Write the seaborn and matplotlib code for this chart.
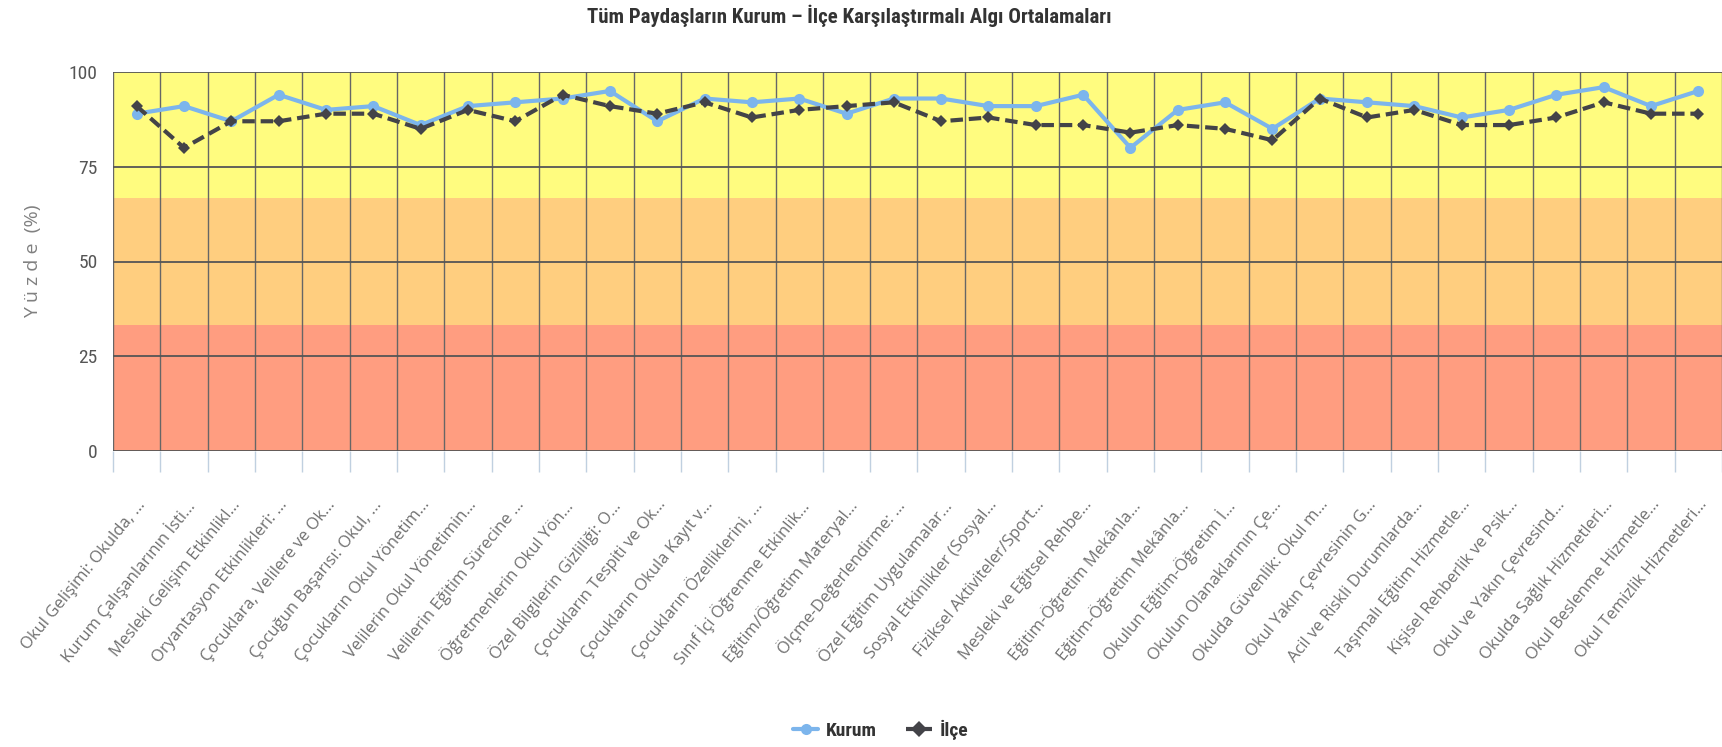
import matplotlib
matplotlib.use("Agg")
import matplotlib.pyplot as plt
from matplotlib import font_manager
import seaborn as sns
import numpy as np
import pandas as pd

# kategoriler (grafikteki kısaltılmış haliyle)
categories = [
    "Okul Gelişimi: Okulda, …", "Kurum Çalışanlarının İsti…", "Mesleki Gelişim Etkinlikl…",
    "Oryantasyon Etkinlikleri: …", "Çocuklara, Velilere ve Ok…", "Çocuğun Başarısı: Okul, …",
    "Çocukların Okul Yönetim…", "Velilerin Okul Yönetimin…", "Velilerin Eğitim Sürecine …",
    "Öğretmenlerin Okul Yön…", "Özel Bilgilerin Gizliliği: O…", "Çocukların Tespiti ve Ok…",
    "Çocukların Okula Kayıt v…", "Çocukların Özelliklerini, …", "Sınıf İçi Öğrenme Etkinlik…",
    "Eğitim/Öğretim Materyal…", "Ölçme-Değerlendirme: …", "Özel Eğitim Uygulamalar…",
    "Sosyal Etkinlikler (Sosyal…", "Fiziksel Aktiviteler/Sport…", "Mesleki ve Eğitsel Rehbe…",
    "Eğitim-Öğretim Mekânla…", "Eğitim-Öğretim Mekânla…", "Okulun Eğitim-Öğretim İ…",
    "Okulun Olanaklarının Çe…", "Okulda Güvenlik: Okul m…", "Okul Yakın Çevresinin G…",
    "Acil ve Riskli Durumlarda…", "Taşımalı Eğitim Hizmetle…", "Kişisel Rehberlik ve Psik…",
    "Okul ve Yakın Çevresind…", "Okulda Sağlık Hizmetleri…", "Okul Beslenme Hizmetle…",
    "Okul Temizlik Hizmetleri…",
]

kurum = [89, 91, 87, 94, 90, 91, 86, 91, 92, 93, 95, 87, 93, 92, 93, 89, 93,
         93, 91, 91, 94, 80, 90, 92, 85, 93, 92, 91, 88, 90, 94, 96, 91, 95]
ilce = [91, 80, 87, 87, 89, 89, 85, 90, 87, 94, 91, 89, 92, 88, 90, 91, 92,
        87, 88, 86, 86, 84, 86, 85, 82, 93, 88, 90, 86, 86, 88, 92, 89, 89]

series_names = ["Kurum", "İlçe"]
y_ticks = [0, 25, 50, 75, 100]
band_edges = [0, 33.33, 66.67, 100]
band_colors = ["#FF9D80", "#FFCE7F", "#FFFC7F"]

sns.set_theme(style="white")
available = {f.name for f in font_manager.fontManager.ttflist}
narrow = "DejaVu Sans"
for cand in ["Liberation Sans Narrow", "Roboto Condensed", "Open Sans Condensed", "DejaVu Sans"]:
    if cand in available:
        narrow = cand
        break
plt.rcParams["font.family"] = ["Open Sans", "DejaVu Sans"]

n = len(categories)
df = pd.DataFrame({"idx": np.arange(n), series_names[0]: kurum, series_names[1]: ilce})
long_df = df.melt(id_vars="idx", var_name="seri", value_name="deger")

fig = plt.figure(figsize=(17.22, 7.47), dpi=100)
ax = fig.add_axes([113 / 1722, 1 - 451 / 747, 1 - 113 / 1722, (451 - 72) / 747])

# arka plan bantları
for lo, hi, col in zip(band_edges[:-1], band_edges[1:], band_colors):
    ax.axhspan(lo, hi, color=col, zorder=0, lw=0)

sns.lineplot(
    data=long_df, x="idx", y="deger", hue="seri", style="seri",
    palette={"Kurum": "#7CB5EC", "İlçe": "#434348"},
    markers={"Kurum": "o", "İlçe": "D"},
    dashes={"Kurum": "", "İlçe": (3, 1.4)},
    linewidth=3, markersize=8, markeredgewidth=0, ax=ax, zorder=3,
)
# diamonds a bit smaller than circles
for line in ax.lines:
    if line.get_marker() == "D":
        line.set_markersize(6.5)

ax.set_xlim(-0.5, n - 0.5)
ax.set_ylim(0, 100)
ax.set_axisbelow(True)
for s in ax.spines.values():
    s.set_visible(False)

ax.set_xticks(np.arange(n))
ax.set_xticklabels(categories, rotation=51, ha="right", rotation_mode="anchor",
                   fontsize=12, color="#707070")
ax.set_xticks(np.arange(n + 1) - 0.5, minor=True)
ax.tick_params(axis="x", which="major", length=0, pad=33)
ax.tick_params(axis="x", which="minor", bottom=True, length=15, color="#C0D0E0", width=1)
ax.grid(axis="x", which="minor", color="#666666", lw=1)

ax.set_yticks(y_ticks)
ax.set_yticklabels([str(v) for v in y_ticks], fontsize=14, color="#555555",
                   family=narrow, fontstretch="condensed")
ax.tick_params(axis="y", length=0, pad=11)
ax.grid(axis="y", which="major", color="#555555", lw=1.3)

ax.set_xlabel("")
ax.set_ylabel("Y ü z d e  (%)", fontsize=14, color="#808080")
ax.yaxis.set_label_coords(-0.044, 0.5)

fig.text(849 / 1722, 1 - 16 / 747, "Tüm Paydaşların Kurum – İlçe Karşılaştırmalı Algı Ortalamaları",
         ha="center", va="center", fontsize=15, fontweight="bold", color="#333333",
         family=narrow, fontstretch="condensed")

sns.move_legend(ax, "center", bbox_to_anchor=(0.477, -0.735), ncol=2, frameon=False,
                title=None, handlelength=1.3, handletextpad=0.4, columnspacing=1.5,
                prop={"family": narrow, "weight": "bold", "size": 14, "stretch": "condensed"})
for t in ax.get_legend().get_texts():
    t.set_color("#333333")

fig.savefig("out.png", dpi=100)
